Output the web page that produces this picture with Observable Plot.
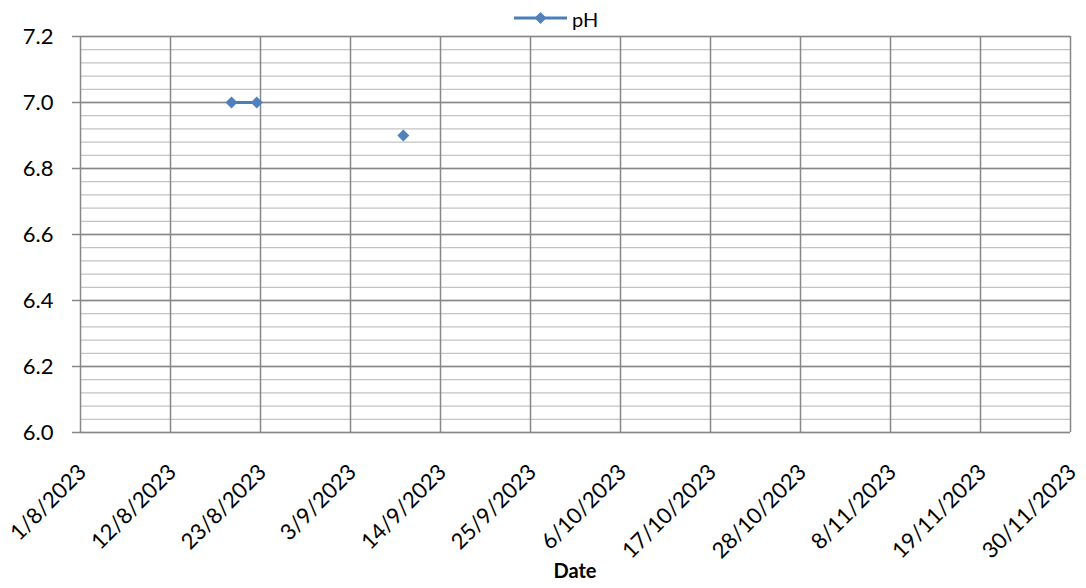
<!DOCTYPE html>
<html>
<head>
<meta charset="utf-8">
<script src="https://cdn.jsdelivr.net/npm/d3@7"></script>
<script src="https://cdn.jsdelivr.net/npm/@observablehq/plot@0.6"></script>
<style>
  body { margin: 0; background: #fff; font-family: Lato, sans-serif; }
  #wrap { position: relative; width: 1086px; height: 588px; overflow: hidden; background: #fff; }
  #legendSwatch { position: absolute; left: 514px; top: 0; }
  #legendText { position: absolute; left: 572px; top: 7px; font-size: 20px; line-height: 24px; color: #000; }
  #chart { position: absolute; left: 0; top: 30px; }
  #xtitle { position: absolute; left: 80px; width: 990px; top: 558px; text-align: center; font-weight: bold; font-size: 20px; line-height: 24px; color: #000; }
</style>
</head>
<body>
<div id="wrap">
  <svg id="legendSwatch" width="54" height="30">
    <line x1="0" x2="53" y1="18" y2="18" stroke="#4a7ebb" stroke-width="3"></line>
    <polygon points="26.5,12 32.5,18 26.5,24 20.5,18" fill="#4f81bd"></polygon>
  </svg>
  <div id="legendText">pH</div>
  <div id="chart"></div>
  <div id="xtitle">Date</div>
</div>
<script>
// ---- data ----
const sampleDates = ["2023-08-19T11:00Z", "2023-08-22T13:00Z", "2023-09-01T00:00Z", "2023-09-09T11:00Z"];
const phValues = [7.0, 7.0, null, 6.9];
const xTickLabels = ["1/8/2023", "12/8/2023", "23/8/2023", "3/9/2023", "14/9/2023", "25/9/2023",
  "6/10/2023", "17/10/2023", "28/10/2023", "8/11/2023", "19/11/2023", "30/11/2023"];
const yMajorTicks = [6.0, 6.2, 6.4, 6.6, 6.8, 7.0, 7.2];
const seriesName = "pH";

// ---- build tables ----
const parseDMY = s => { const [d, m, y] = s.split("/").map(Number); return new Date(Date.UTC(y, m - 1, d)); };
const data = sampleDates.map((d, i) => ({ date: new Date(d), ph: phValues[i] }));
const xTicks = xTickLabels.map(l => ({ label: l, date: parseDMY(l) }));
const yMinorTicks = d3.range(0, 31).map(i => +(6 + i * 0.04).toFixed(2));

const chart = Plot.plot({
  width: 1086,
  height: 528,
  marginTop: 6,
  marginBottom: 126,
  marginLeft: 80,
  marginRight: 16,
  style: { fontFamily: "Lato, sans-serif", fontSize: "22px", color: "#000", background: "#fff", overflow: "visible" },
  x: { type: "utc", domain: [xTicks[0].date, xTicks[xTicks.length - 1].date], axis: null },
  y: { domain: [6.0, 7.2] },
  marks: [
    Plot.ruleY(yMinorTicks, { stroke: "#c3c3c3", strokeWidth: 1.3 }),
    Plot.ruleY(yMajorTicks, { stroke: "#878787", strokeWidth: 1.5 }),
    Plot.ruleX(xTicks, { x: "date", stroke: "#878787", strokeWidth: 1.5 }),
    Plot.axisY({
      ticks: yMajorTicks, tickFormat: d => d.toFixed(1), tickSize: 8, tickPadding: 19,
      stroke: "#878787", strokeWidth: 1.5, fill: "#000", fontSize: 22, label: null
    }),
    Plot.text(xTicks, {
      x: "date", text: "label", frameAnchor: "bottom", rotate: -45,
      textAnchor: "end", lineAnchor: "middle", dx: 2, dy: 36, fontSize: 22, fill: "#000"
    }),
    Plot.line(data, { x: "date", y: "ph", stroke: "#4a7ebb", strokeWidth: 3 }),
    Plot.dot(data, { x: "date", y: "ph", symbol: "diamond2", r: 5.4, fill: "#4f81bd", stroke: null })
  ]
});
document.getElementById("chart").appendChild(chart);
document.getElementById("legendText").textContent = seriesName;
</script>
</body>
</html>
